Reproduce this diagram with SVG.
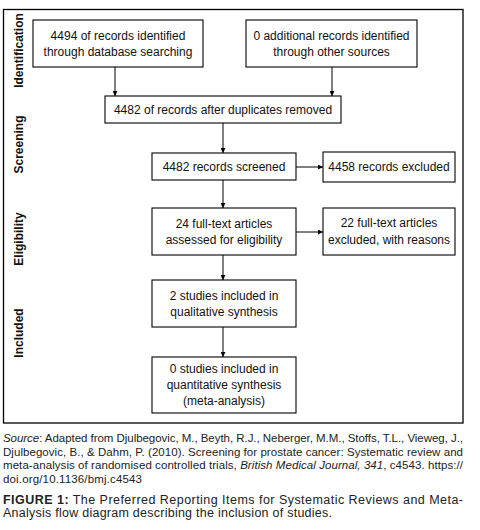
<svg xmlns="http://www.w3.org/2000/svg" width="480" height="530" viewBox="0 0 480 530">
<style>
.box{fill:#fff;stroke:#000;stroke-width:1.1}
.t{font-family:"Liberation Sans",Arial,sans-serif;font-size:12px;fill:#111;text-anchor:middle}
.side{font-family:"Liberation Sans",Arial,sans-serif;font-size:12px;font-weight:bold;fill:#111;text-anchor:middle}
.cap{font-family:"Liberation Sans",Arial,sans-serif;font-size:11.5px;fill:#222}
.fig{font-family:"Liberation Sans",Arial,sans-serif;font-size:12.5px;fill:#222}
.ln{stroke:#000;stroke-width:1;fill:none;marker-end:url(#ah)}
</style>
<defs>
<marker id="ah" viewBox="0 0 10 10" refX="10" refY="5" markerWidth="5" markerHeight="5" markerUnits="userSpaceOnUse" orient="auto">
<path d="M0,0 L10,5 L0,10 z" fill="#000"/>
</marker>
</defs>
<rect x="3.5" y="9.5" width="459.5" height="413.5" fill="#fff" stroke="#000" stroke-width="1.3"/>
<g id="labels">
<text class="side" transform="translate(23,50.5) rotate(-90)">Identification</text>
<text class="side" transform="translate(23,144.5) rotate(-90)">Screening</text>
<text class="side" transform="translate(23,239) rotate(-90)">Eligibility</text>
<text class="side" transform="translate(23,333) rotate(-90)">Included</text>
</g>
<g id="connectors">
<line class="ln" x1="115" y1="67" x2="115" y2="96"/>
<line class="ln" x1="332" y1="67" x2="332" y2="96"/>
<line class="ln" x1="223" y1="123" x2="223" y2="153"/>
<line class="ln" x1="296" y1="167" x2="323" y2="167"/>
<line class="ln" x1="223" y1="180" x2="223" y2="208"/>
<line class="ln" x1="296" y1="232" x2="323" y2="232"/>
<line class="ln" x1="223" y1="255" x2="223" y2="280"/>
<line class="ln" x1="223" y1="327" x2="223" y2="357"/>
</g>
<g id="n1">
<rect class="box" x="33" y="20" width="170" height="47"/>
<text class="t" x="118" y="39.5">4494 of records identified</text>
<text class="t" x="118" y="55.5">through database searching</text>
</g>
<g id="n2">
<rect class="box" x="246" y="20" width="171" height="47"/>
<text class="t" x="331.5" y="39.5">0 additional records identified</text>
<text class="t" x="331.5" y="55.5">through other sources</text>
</g>
<g id="n3">
<rect class="box" x="105" y="96" width="236" height="27"/>
<text class="t" x="223" y="113.5">4482 of records after duplicates removed</text>
</g>
<g id="n4">
<rect class="box" x="152" y="153" width="144" height="27"/>
<text class="t" x="224" y="170.5">4482 records screened</text>
</g>
<g id="n5">
<rect class="box" x="323" y="152" width="132" height="30"/>
<text class="t" x="389" y="171">4458 records excluded</text>
</g>
<g id="n6">
<rect class="box" x="152" y="208" width="144" height="47"/>
<text class="t" x="224" y="227.5">24 full-text articles</text>
<text class="t" x="224" y="244">assessed for eligibility</text>
</g>
<g id="n7">
<rect class="box" x="323" y="208" width="132" height="47"/>
<text class="t" x="389" y="227">22 full-text articles</text>
<text class="t" x="389" y="243.5">excluded, with reasons</text>
</g>
<g id="n8">
<rect class="box" x="152" y="280" width="144" height="47"/>
<text class="t" x="224" y="299.5">2 studies included in</text>
<text class="t" x="224" y="315.5">qualitative synthesis</text>
</g>
<g id="n9">
<rect class="box" x="152" y="357" width="144" height="56"/>
<text class="t" x="224" y="372.5">0 studies included in</text>
<text class="t" x="224" y="388.5">quantitative synthesis</text>
<text class="t" x="224" y="404.5">(meta-analysis)</text>
</g>
<g id="caption">
<text class="cap" x="3" y="442" textLength="460" lengthAdjust="spacing"><tspan font-style="italic">Source</tspan>: Adapted from Djulbegovic, M., Beyth, R.J., Neberger, M.M., Stoffs, T.L., Vieweg, J.,</text>
<text class="cap" x="3" y="455.5" textLength="460" lengthAdjust="spacing">Djulbegovic, B., &amp; Dahm, P. (2010). Screening for prostate cancer: Systematic review and</text>
<text class="cap" x="3" y="469" textLength="460" lengthAdjust="spacing">meta-analysis of randomised controlled trials, <tspan font-style="italic">British Medical Journal, 341</tspan>, c4543. https://</text>
<text class="cap" x="3" y="482.5" textLength="139" lengthAdjust="spacing">doi.org/10.1136/bmj.c4543</text>
<text class="fig" x="3" y="504" textLength="460" lengthAdjust="spacing"><tspan font-weight="bold">FIGURE 1:</tspan> The Preferred Reporting Items for Systematic Reviews and Meta-</text>
<text class="fig" x="3" y="517" textLength="329" lengthAdjust="spacing">Analysis flow diagram describing the inclusion of studies.</text>
</g>
</svg>
